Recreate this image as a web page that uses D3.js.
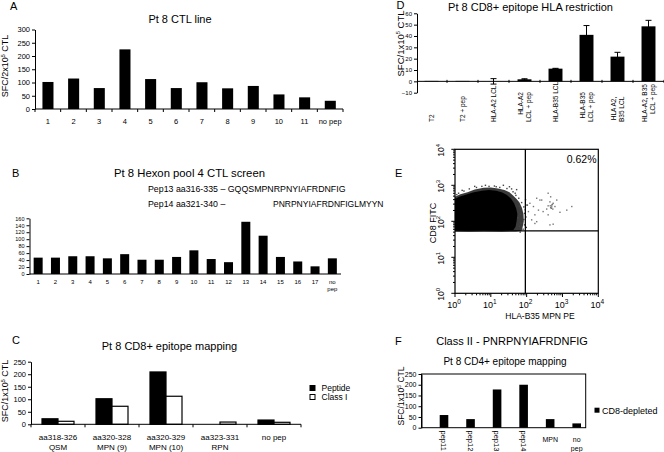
<!DOCTYPE html>
<html><head><meta charset="utf-8">
<script src="https://cdn.jsdelivr.net/npm/d3@7"></script>
<style>
body{margin:0;background:#fff}
svg{display:block}
text{font-family:"Liberation Sans",Arial,Helvetica,sans-serif;fill:#000}
</style>
</head><body>
<svg id="c" width="664" height="452"></svg>
<script>
// ---------------- DATA ----------------
// Panel A
const aCats = ["1","2","3","4","5","6","7","8","9","10","11","no pep"];
const aVals = [102,115,79,225,113,79,101,78,87,55,44,31];
const aTicks = [0,50,100,150,200,250,300];
// Panel B
const bCats = ["1","2","3","4","5","6","7","8","9","10","11","12","13","14","15","16","17","no pep"];
const bVals = [47,47,51,51,45,57,41,41,49,68,43,34,150,110,49,36,22,45];
const bTicks = [0,20,40,60,80,100,120,140,160];
// Panel C
const cGroups = ["aa318-326","aa320-328","aa320-329","aa323-331","no pep"];
const cGroups2 = ["QSM","MPN (9)","MPN (10)","RPN",""];
const cSeries = ["Peptide","Class I"];
const cPeptide = [22,102,209,0,17];
const cClassI = [12,72,112,9,8];
const cTicks = [0,50,100,150,200,250];
// Panel D
const dCats = [["T2"],["T2 + pep"],["HLA-A2 LCL"],["HLA-A2","LCL + pep"],["HLA-B35 LCL"],["HLA-B35","LCL + pep"],["HLA A2,","B35 LCL"],["HLA-A2, B35","LCL + pep"]];
const dVals = [0.4,0.4,0,1.8,11.2,41,21.8,48.5];
const dErr = [0,0,2.4,0.5,0.3,8.2,3.8,5.3];
const dTicks = [-10,0,10,20,30,40,50,60];
// Panel E (log10 units)
const eDecades = [0,1,2,3,4];
const eGateX = 92, eGateY = 54;
const eGatePct = "0.62%";
const eHalo = [[0,1.72],[0,2.68],[0.15,2.75],[0.35,2.81],[0.55,2.88],[0.8,2.93],[1.0,2.94],[1.2,2.91],[1.38,2.87],[1.52,2.81],[1.62,2.72],[1.72,2.62],[1.8,2.52],[1.87,2.37],[1.91,2.2],[1.92,2.0],[1.89,1.85],[1.86,1.74],[1.7,1.72],[1.3,1.71],[0.8,1.72],[0.4,1.71]];
const eCore = [[0,1.75],[0,2.62],[0.12,2.68],[0.3,2.74],[0.5,2.8],[0.75,2.85],[0.95,2.87],[1.15,2.85],[1.32,2.8],[1.45,2.73],[1.56,2.63],[1.65,2.5],[1.71,2.35],[1.74,2.2],[1.72,2.0],[1.69,1.85],[1.63,1.76],[1.3,1.74],[0.8,1.75],[0.3,1.74]];
const eFringe = [[0.1,2.78],[0.25,2.84],[0.4,2.9],[0.6,2.94],[0.75,2.97],[0.95,2.97],[1.1,2.98],[1.25,2.94],[1.45,2.91],[1.52,2.96],[1.62,2.82],[1.7,2.72],[1.78,2.64],[1.86,2.52],[1.92,2.4],[1.94,2.22],[1.92,2.05],[1.94,1.9],[1.9,1.78],[1.82,1.7],[1.96,2.32],[1.98,2.12],[1.72,2.88],[1.35,3.0],[0.55,2.97],[0.05,2.74],[1.84,1.95],[1.8,2.42],[1.62,2.62],[1.97,2.6],[2.02,2.45],[1.99,1.83],[0.2,2.86],[1.15,2.96],[1.68,2.78],[1.82,2.2],[1.76,2.1],[1.8,1.86],[1.58,2.9],[0.85,3.0]];
const eRare = [[2.00,2.45],[2.09,2.50],[2.19,2.41],[2.05,2.27],[2.28,2.64],[2.37,2.59],[2.33,2.31],[2.23,2.18],[2.14,2.04],[2.28,1.99],[2.23,1.94],[2.42,2.59],[2.46,2.27],[2.60,2.78],[2.67,2.68],[2.65,2.54],[2.70,2.45],[2.74,2.50],[2.60,2.43],[2.67,2.38],[2.73,2.34],[2.79,2.41],[2.56,2.34],[2.84,2.59],[2.93,2.25],[3.12,2.31],[3.26,2.41],[2.74,1.92],[2.65,1.90],[2.60,2.18],[2.70,2.40],[2.72,2.47],[2.66,2.43],[2.69,2.36]];
// Panel F
const fCats = ["pep11","pep12","pep13","pep14","MPN","no pep"];
const fVals = [59,40,178,200,40,20];
const fTicks = [0,50,100,150,200,250];

// ---------------- HELPERS ----------------
const svg = d3.select("#c");
const FONT = '"Liberation Sans", Arial, sans-serif';

function txt(g, x, y, s, size, anchor) {
  return g.append("text").attr("x", x).attr("y", y).attr("font-size", size)
    .attr("text-anchor", anchor || "start").text(s);
}
function yLabel(g, x, yc, pre, sup, post, size) {
  const t = g.append("text").attr("transform", `translate(${x},${yc}) rotate(-90)`)
    .attr("text-anchor", "middle").attr("font-size", size).attr("dy", "0.35em");
  t.append("tspan").text(pre);
  t.append("tspan").attr("font-size", size * 0.6).attr("dy", -size * 0.4).text(sup);
  t.append("tspan").attr("dy", size * 0.4).text(post);
}
function yAxis(g, y, x, ticks, size) {
  g.append("g").attr("transform", `translate(${x},0)`)
    .call(d3.axisLeft(y).tickValues(ticks).tickSize(3).tickSizeOuter(0).tickPadding(2).tickFormat(d3.format("d")))
    .call(a => {
      a.attr("font-family", FONT);
      a.selectAll("text").attr("font-size", size).attr("fill", "#000");
      a.selectAll("path,line").attr("stroke", "#000");
    });
}
function xBaseline(g, x, y0, x0, x1, ticks) {
  g.append("line").attr("x1", x0).attr("x2", x1).attr("y1", y0).attr("y2", y0).attr("stroke", "#000");
  if (ticks) {
    const bounds = [x.range()[0]].concat(x.domain().map(c => x(c) + x.bandwidth()));
    g.selectAll(null).data(bounds).join("line")
      .attr("x1", d => d).attr("x2", d => d).attr("y1", y0).attr("y2", y0 + 3).attr("stroke", "#000");
  }
}

// ---------------- PANEL A ----------------
{
  const g = svg.append("g");
  const x = d3.scaleBand().domain(aCats).range([35, 343]);
  const y = d3.scaleLinear().domain([0, 300]).range([109, 29.5]);
  g.selectAll(null).data(aVals).join("rect")
    .attr("x", (d, i) => x(aCats[i]) + x.bandwidth() * 0.29)
    .attr("width", x.bandwidth() * 0.43)
    .attr("y", d => y(d)).attr("height", d => y(0) - y(d)).attr("fill", "#000");
  yAxis(g, y, 35, aTicks, 7.5);
  xBaseline(g, x, y(0), 35, 343, true);
  g.selectAll(null).data(aCats).join("text")
    .attr("x", d => x(d) + x.bandwidth() / 2).attr("y", 123.5)
    .attr("text-anchor", "middle").attr("font-size", 7.5).text(d => d);
  txt(g, 10, 10, "A", 11);
  txt(g, 180, 22.5, "Pt 8 CTL line", 11, "middle");
  yLabel(g, 5, 66, "SFC/2x10", "5", " CTL", 9);
}

// ---------------- PANEL B ----------------
{
  const g = svg.append("g");
  const x = d3.scaleBand().domain(bCats).range([29.5, 341]);
  const y = d3.scaleLinear().domain([0, 160]).range([274, 218.3]);
  g.selectAll(null).data(bVals).join("rect")
    .attr("x", (d, i) => x(bCats[i]) + x.bandwidth() * 0.24)
    .attr("width", x.bandwidth() * 0.52)
    .attr("y", d => y(d)).attr("height", d => y(0) - y(d)).attr("fill", "#000");
  yAxis(g, y, 29.5, bTicks, 5.5);
  xBaseline(g, x, y(0), 29.5, 341, false);
  bCats.forEach(c => {
    const cx = x(c) + x.bandwidth() / 2;
    if (c === "no pep") {
      txt(g, cx, 283.5, "no", 6, "middle");
      txt(g, cx, 290.5, "pep", 6, "middle");
    } else txt(g, cx, 283.5, c, 6, "middle");
  });
  txt(g, 12, 177.3, "B", 11);
  txt(g, 189.5, 177, "Pt 8 Hexon pool 4 CTL screen", 11.3, "middle");
  txt(g, 148, 191.5, "Pep13 aa316-335 \u2013 GQQSMPNRPNYIAFRDNFIG", 8.8);
  txt(g, 148, 206.5, "Pep14 aa321-340 \u2013", 8.8);
  txt(g, 273, 206.5, "PNRPNYIAFRDNFIGLMYYN", 8.5);
}

// ---------------- PANEL C ----------------
{
  const g = svg.append("g");
  const x = d3.scaleBand().domain(cGroups).range([31, 301]);
  const xs = d3.scaleBand().domain(cSeries).range([-16, 16]);
  const y = d3.scaleLinear().domain([0, 250]).range([424.3, 361.7]);
  const series = [cPeptide, cClassI];
  const fills = ["#000", "#fff"];
  series.forEach((vals, si) => {
    g.selectAll(null).data(vals).join("rect")
      .attr("x", (d, i) => x(cGroups[i]) + x.bandwidth() / 2 + xs(cSeries[si]))
      .attr("width", xs.bandwidth())
      .attr("y", d => y(d)).attr("height", d => y(0) - y(d))
      .attr("fill", fills[si]).attr("stroke", d => d > 0 ? "#000" : "none").attr("stroke-width", 1.2);
  });
  yAxis(g, y, 31, cTicks, 7.5);
  xBaseline(g, x, y(0), 31, 301, true);
  cGroups.forEach((c, i) => {
    const cx = x(c) + x.bandwidth() / 2;
    txt(g, cx, 439.5, c, 8, "middle");
    if (cGroups2[i]) txt(g, cx, 449.5, cGroups2[i], 8, "middle");
  });
  txt(g, 12, 344, "C", 11);
  txt(g, 169.5, 349.5, "Pt 8 CD8+ epitope mapping", 11, "middle");
  yLabel(g, 5, 391, "SFC/1x10", "5", " CTL", 9);
  // legend
  cSeries.forEach((s, i) => {
    g.append("rect").attr("x", 310).attr("y", 385.5 + i * 9).attr("width", 5).attr("height", 5)
      .attr("fill", fills[i]).attr("stroke", "#000").attr("stroke-width", 1);
    txt(g, 321.5, 391 + i * 9, s, 8.5);
  });
}

// ---------------- PANEL D ----------------
{
  const g = svg.append("g");
  const x = d3.scaleBand().domain(dCats.map((d, i) => i)).range([416, 664]);
  const y = d3.scaleLinear().domain([-10, 60]).range([92.7, 13.3]);
  const cx = i => x(i) + x.bandwidth() / 2;
  // error bars
  dVals.forEach((v, i) => {
    const e = dErr[i];
    if (!e) return;
    g.append("line").attr("x1", cx(i)).attr("x2", cx(i)).attr("y1", y(v + e)).attr("y2", y(v - e)).attr("stroke", "#000");
    [v + e, v - e].forEach(t => g.append("line").attr("x1", cx(i) - 3).attr("x2", cx(i) + 3)
      .attr("y1", y(t)).attr("y2", y(t)).attr("stroke", "#000"));
  });
  g.selectAll(null).data(dVals).join("rect")
    .attr("x", (d, i) => cx(i) - x.bandwidth() * 0.225)
    .attr("width", x.bandwidth() * 0.45)
    .attr("y", d => y(d)).attr("height", d => y(0) - y(d)).attr("fill", "#000");
  yAxis(g, y, 417, dTicks, 6);
  g.append("line").attr("x1", 417).attr("x2", 664).attr("y1", y(0)).attr("y2", y(0)).attr("stroke", "#000");
  g.selectAll(null).data(dCats.map((d, i) => x(i) + x.bandwidth())).join("line")
    .attr("x1", d => d).attr("x2", d => d).attr("y1", y(0) - 1.5).attr("y2", y(0) + 1.5).attr("stroke", "#000");
  // rotated category labels
  dCats.forEach((lines, i) => {
    const n = lines.length;
    const nodes = lines.map((s, k) => {
      const off = n === 1 ? 0 : (k - 0.5) * 7.8;
      return g.append("text").attr("font-size", 6.5).attr("dy", "0.35em")
        .attr("text-anchor", "end").text(s)
        .attr("transform", `translate(${cx(i) + off},122) rotate(-90)`);
    });
    const maxLen = d3.max(nodes, t => t.node().getComputedTextLength());
    nodes.forEach(t => t.attr("x", maxLen));
  });
  txt(g, 396.5, 9, "D", 11);
  txt(g, 530.5, 11, "Pt 8 CD8+ epitope HLA restriction", 11, "middle");
  yLabel(g, 400.5, 43.5, "SFC/1x10", "5", " CTL", 9.5);
}

// ---------------- PANEL E ----------------
{
  const g = svg.append("g");
  const x = d3.scaleLog().domain([1, 1e4]).range([455, 598.3]);
  const y = d3.scaleLog().domain([1, 1e4]).range([293.3, 149.3]);
  const P = d => [x(10 ** d[0]), y(10 ** d[1])];
  const blob = d3.line().x(d => P(d)[0]).y(d => P(d)[1]).curve(d3.curveLinearClosed);
  g.append("path").attr("d", blob(eHalo)).attr("fill", "#3a3a3a");
  g.append("path").attr("d", blob(eCore)).attr("fill", "#000");
  g.selectAll(null).data(eFringe).join("rect")
    .attr("x", d => P(d)[0] - 0.7).attr("y", d => P(d)[1] - 0.7).attr("width", 1.4).attr("height", 1.4).attr("fill", "#444");
  g.selectAll(null).data(eRare).join("rect")
    .attr("x", d => P(d)[0] - 0.7).attr("y", d => P(d)[1] - 0.7).attr("width", 1.4).attr("height", 1.4).attr("fill", "#777");
  // frame
  g.append("rect").attr("x", 455).attr("y", 149.3).attr("width", 143.3).attr("height", 144)
    .attr("fill", "none").attr("stroke", "#000").attr("stroke-width", 1.2);
  // gates
  g.append("line").attr("x1", x(eGateX)).attr("x2", x(eGateX)).attr("y1", 149.3).attr("y2", 293.3).attr("stroke", "#000").attr("stroke-width", 1.3);
  g.append("line").attr("x1", 455).attr("x2", 598.3).attr("y1", y(eGateY)).attr("y2", y(eGateY)).attr("stroke", "#000").attr("stroke-width", 1.3);
  // ticks
  const minor = [];
  for (let dcd = 0; dcd < 4; dcd++) for (let m = 2; m <= 9; m++) minor.push(m * 10 ** dcd);
  const major = eDecades.map(e => 10 ** e);
  g.selectAll(null).data(minor).join("line").attr("x1", d => x(d)).attr("x2", d => x(d)).attr("y1", 293.3).attr("y2", 295.3).attr("stroke", "#000");
  g.selectAll(null).data(major).join("line").attr("x1", d => x(d)).attr("x2", d => x(d)).attr("y1", 293.3).attr("y2", 297).attr("stroke", "#000");
  g.selectAll(null).data(minor).join("line").attr("y1", d => y(d)).attr("y2", d => y(d)).attr("x1", 455).attr("x2", 453).attr("stroke", "#000");
  g.selectAll(null).data(major).join("line").attr("y1", d => y(d)).attr("y2", d => y(d)).attr("x1", 455).attr("x2", 451.3).attr("stroke", "#000");
  // x tick labels
  eDecades.forEach(e => {
    const t = g.append("text").attr("x", x(10 ** e) - 1).attr("y", 308).attr("font-size", 9).attr("text-anchor", "middle");
    t.append("tspan").text("10");
    t.append("tspan").attr("font-size", 6.5).attr("dy", -4).text(e);
  });
  // y tick labels (rotated)
  eDecades.forEach(e => {
    const t = g.append("text").attr("transform", `translate(444,${y(10 ** e) + 1}) rotate(-90)`)
      .attr("font-size", 8.5).attr("text-anchor", "middle");
    t.append("tspan").text("10");
    t.append("tspan").attr("font-size", 6).attr("dy", -4).text(e);
  });
  txt(g, 540, 319, "HLA-B35 MPN PE", 8.5, "middle");
  g.append("text").attr("transform", "translate(433,223) rotate(-90)").attr("font-size", 9)
    .attr("text-anchor", "middle").attr("dy", "0.35em").text("CD8 FITC");
  txt(g, 596.5, 162.5, eGatePct, 10.5, "end");
  txt(g, 395, 177.3, "E", 11);
}

// ---------------- PANEL F ----------------
{
  const g = svg.append("g");
  const x = d3.scalePoint().domain(fCats).range([444, 576.7]);
  const y = d3.scaleLinear().domain([0, 250]).range([427.7, 374]);
  g.append("rect").attr("x", 421.5).attr("y", 374).attr("width", 164.2).attr("height", 53.7)
    .attr("fill", "none").attr("stroke", "#000");
  g.selectAll(null).data(fVals).join("rect")
    .attr("x", (d, i) => x(fCats[i]) - 4.3).attr("width", 8.6)
    .attr("y", d => y(d)).attr("height", d => y(0) - y(d)).attr("fill", "#000");
  yAxis(g, y, 421.5, fTicks, 7);
  fCats.forEach(c => {
    const cx = x(c);
    if (c.startsWith("pep")) {
      g.append("text").attr("transform", `translate(${cx},430.5) rotate(90)`).attr("dy", "0.35em")
        .attr("font-size", 7.5).text(c);
    } else if (c === "no pep") {
      txt(g, cx, 441.7, "no", 7, "middle");
      txt(g, cx, 451, "pep", 7, "middle");
    } else txt(g, cx, 441.7, c, 7, "middle");
  });
  txt(g, 395, 345, "F", 11);
  txt(g, 512, 345, "Class II - PNRPNYIAFRDNFIG", 11, "middle");
  txt(g, 505, 365, "Pt 8 CD4+ epitope mapping", 10, "middle");
  yLabel(g, 401, 396, "SFC/1x10", "5", " CTL", 8.5);
  g.append("rect").attr("x", 594.5).attr("y", 407.7).attr("width", 5).attr("height", 5).attr("fill", "#000");
  txt(g, 602, 413.5, "CD8-depleted", 9);
}
</script>
</body></html>
